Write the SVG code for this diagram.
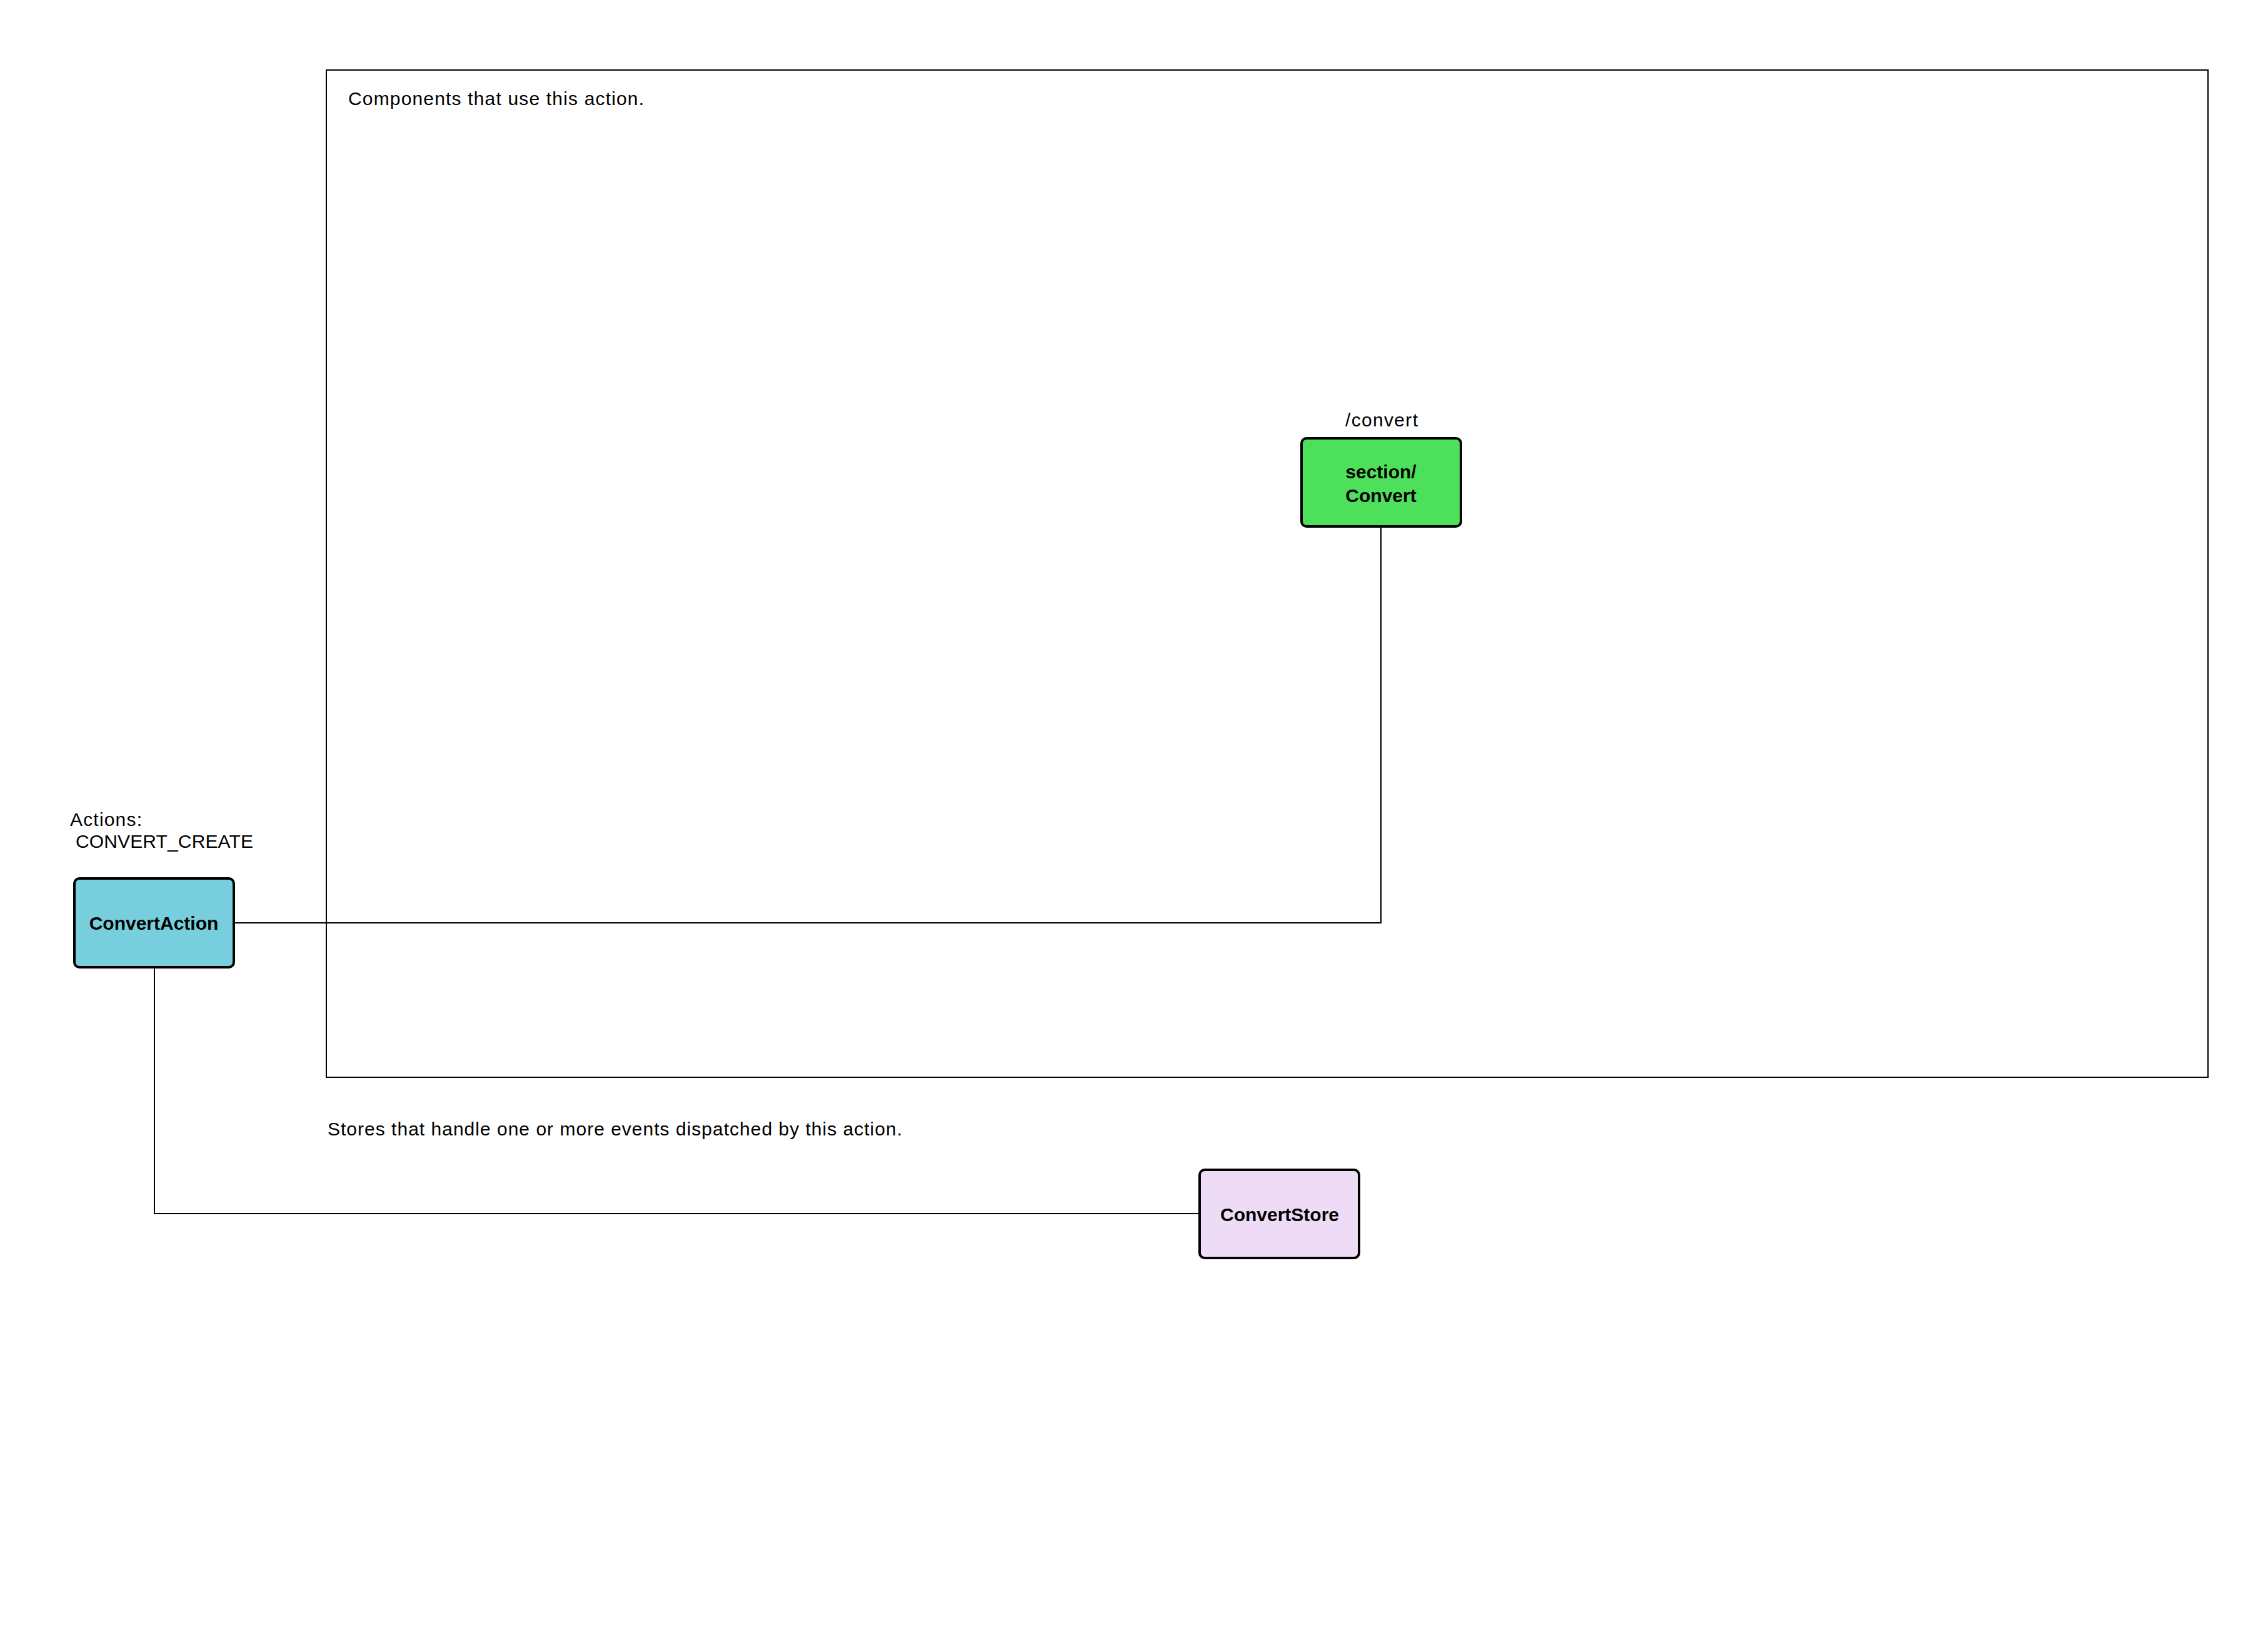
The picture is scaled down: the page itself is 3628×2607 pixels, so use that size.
<svg xmlns="http://www.w3.org/2000/svg" width="3628" height="2607" viewBox="0 0 3628 2607">
<style>
text{font-family:"Liberation Sans",Arial,Helvetica,sans-serif;font-size:30px;fill:#000}
.lbl{font-weight:bold;text-anchor:middle}
.node{stroke:#000;stroke-width:4}
.conn{fill:none;stroke:#000;stroke-width:2}
.frame{fill:none;stroke:#000;stroke-width:2}
</style>
<rect width="3628" height="2607" fill="#fff"/>
<g id="components-frame">
<rect class="frame" x="522" y="112" width="3010" height="1611"/>
<text x="557" y="168" textLength="473">Components that use this action.</text>
</g>
<text id="stores-caption" x="524" y="1816" textLength="919">Stores that handle one or more events dispatched by this action.</text>
<g id="connectors">
<polyline class="conn" points="374,1476 2209,1476 2209,842"/>
<polyline class="conn" points="247,1547 247,1941 1918,1941"/>
</g>
<g id="ConvertAction">
<text x="112" y="1321" textLength="115">Actions:</text>
<text x="121" y="1356" textLength="284">CONVERT_CREATE</text>
<rect class="node" x="119" y="1405" width="255" height="142" rx="8" fill="#77CFDD"/>
<text class="lbl" x="246" y="1487">ConvertAction</text>
</g>
<g id="section-Convert">
<text x="2210" y="682" text-anchor="middle" textLength="116">/convert</text>
<rect class="node" x="2082" y="701" width="255" height="141" rx="8" fill="#4DE05B"/>
<text class="lbl" x="2209" y="765">section/</text>
<text class="lbl" x="2209" y="803">Convert</text>
</g>
<g id="ConvertStore">
<rect class="node" x="1919" y="1871" width="255" height="141" rx="8" fill="#EEDBF6"/>
<text class="lbl" x="2047" y="1953">ConvertStore</text>
</g>
</svg>
